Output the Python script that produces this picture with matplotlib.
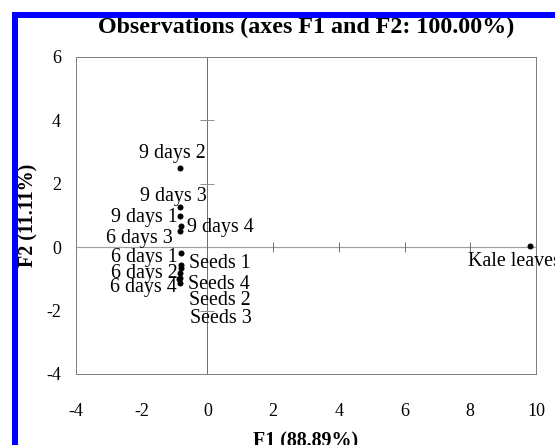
import matplotlib
matplotlib.use('Agg')
import matplotlib.pyplot as plt
from matplotlib.patches import Rectangle

# observations (PCA scores)
names = ['9 days 2', '9 days 3', '9 days 1', '9 days 4', '6 days 3',
         '6 days 1', '6 days 2', '6 days 4',
         'Seeds 1', 'Seeds 4', 'Seeds 2', 'Seeds 3', 'Kale leaves']
f1 = [-0.82, -0.82, -0.84, -0.81, -0.84,
      -0.81, -0.81, -0.85,
      -0.79, -0.85, -0.87, -0.85, 9.83]
f2 = [2.49, 1.26, 0.98, 0.66, 0.50,
      -0.19, -0.66, -0.98,
      -0.57, -0.82, -1.01, -1.14, 0.03]

xticks = [-4, -2, 0, 2, 4, 6, 8, 10]
yticks = [-4, -2, 0, 2, 4, 6]
cross_x = [2, 4, 6, 8]
cross_y = [-2, 2, 4]

# label offsets in points (dx, dy, ha)
offs = [(-8, 15, 'center'), (-7, 11, 'center'), (-2, -1, 'right'),
        (6, -1, 'left'), (-7, -7, 'right'),
        (-3, -4, 'right'), (-3, -5, 'right'), (-3, -9, 'right'),
        (8, 2, 'left'), (8, -11, 'left'), (10, -21, 'left'),
        (10, -35, 'left'), (-62, -15, 'left')]

plt.rcParams['font.family'] = 'Liberation Serif'
plt.rcParams['axes.unicode_minus'] = False

fig = plt.figure(figsize=(555 / 72, 445 / 72), dpi=72)
ax = fig.add_axes([76 / 555, 1 - 374 / 445, 460 / 555, 317 / 445])

ax.axhline(0, color='#a0a0a0', lw=1.2, zorder=1)
ax.axvline(0, color='#707070', lw=1.0, zorder=1)
ax.plot(cross_x, [0] * len(cross_x), ls='none', marker='|', ms=10,
        mew=1, color='#707070', zorder=1)
ax.plot([0] * len(cross_y), cross_y, ls='none', marker='_', ms=14,
        mew=1, color='#909090', zorder=1)

ax.plot(f1, f2, 'o', color='black', ms=5, zorder=3, clip_on=False)
for n, x, y, (dx, dy, ha) in zip(names, f1, f2, offs):
    ax.annotate(n, (x, y), xytext=(dx, dy), textcoords='offset points',
                ha=ha, va='center', fontsize=20, annotation_clip=False)

ax.set_xlim(-4, 10)
ax.set_ylim(-4, 6)
ax.set_xticks(xticks)
ax.set_yticks(yticks)
ax.tick_params(length=0, labelsize=18)
ax.tick_params(axis='x', pad=29)
ax.tick_params(axis='y', pad=15)
for s in ax.spines.values():
    s.set_color('#808080')
    s.set_linewidth(1)

ax.set_title('Observations (axes F1 and F2: 100.00%)', fontsize=24,
             fontweight='bold', pad=24)
ax.set_xlabel('F1 (88.89%)', fontsize=20, fontweight='bold', labelpad=11)
ax.set_ylabel('F2 (11.11%)', fontsize=20, fontweight='bold', labelpad=8)

# blue frame of the original figure
fig.add_artist(Rectangle((12 / 555, 0), 5 / 555, 1 - 12 / 445,
                         transform=fig.transFigure, color='#0000ff', zorder=10))
fig.add_artist(Rectangle((12 / 555, 1 - 17 / 445), 1, 5 / 445,
                         transform=fig.transFigure, color='#0000ff', zorder=10))

fig.savefig('out.png', dpi=72)
